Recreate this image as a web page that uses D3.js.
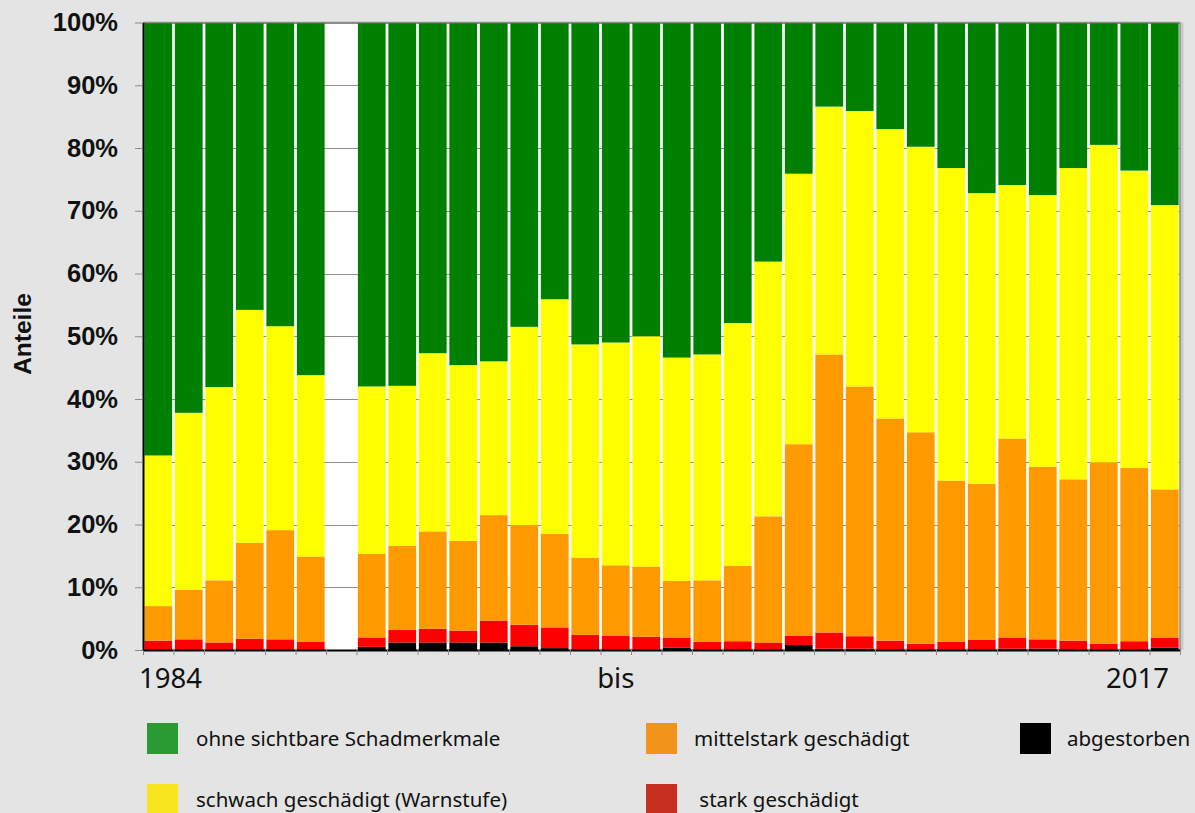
<!DOCTYPE html>
<html><head><meta charset="utf-8">
<script src="https://cdn.jsdelivr.net/npm/d3@7"></script>
<style>
html,body{margin:0;padding:0;background:#e3e4e3;}
svg{display:block;}
</style></head>
<body>
<svg id="chart" width="1195" height="813"></svg>
<script>
// ---- data ----
const years = [1984,1985,1986,1987,1988,1989,1990,1991,1992,1993,1994,1995,1996,1997,1998,1999,2000,2001,2002,2003,2004,2005,2006,2007,2008,2009,2010,2011,2012,2013,2014,2015,2016,2017];
// percentages per damage class (1990: no survey)
const abgestorben = [0,0,0,0,0,0,null,0.5,1.2,1.2,1.2,1.2,0.6,0.3,0.1,0.1,0.1,0.4,0.1,0.1,0.1,0.8,0.2,0.2,0.1,0.1,0.1,0.1,0.2,0.2,0.1,0.1,0.1,0.4];
const stark       = [1.5,1.7,1.2,1.8,1.7,1.3,null,1.5,2.0,2.2,1.9,3.5,3.4,3.3,2.3,2.2,2.0,1.6,1.2,1.3,1.1,1.5,2.6,2.0,1.4,0.9,1.2,1.5,1.8,1.5,1.4,0.9,1.3,1.6];
const mittelstark = [5.5,7.9,9.9,15.3,17.4,13.6,null,13.3,13.4,15.5,14.3,16.8,15.9,14.9,12.3,11.2,11.2,9.0,9.8,12.0,20.1,30.5,44.3,39.8,35.4,33.7,25.7,24.9,31.7,27.5,25.7,28.9,27.6,23.6];
const schwach     = [24.0,28.2,30.8,37.1,32.5,28.9,null,26.7,25.5,28.4,28.0,24.5,31.6,37.4,34.0,35.5,36.7,35.6,36.0,38.7,40.6,43.1,39.5,43.9,46.1,45.5,49.8,46.3,40.4,43.3,49.6,50.6,47.4,45.3];
const ohne        = [69.0,62.2,58.1,45.8,48.4,56.2,null,58.0,57.9,52.7,54.6,54.0,48.5,44.1,51.3,51.0,50.0,53.4,52.9,47.9,38.1,24.1,13.4,14.1,17.0,19.8,23.2,27.2,25.9,27.5,23.2,19.5,23.6,29.1];
const yTicks = [0,10,20,30,40,50,60,70,80,90,100];
const xLabels = ["1984","bis","2017"];
const seriesKeys   = ["abgestorben","stark","mittelstark","schwach","ohne"];
const barColors    = ["#000000","#ff0000","#ff9900","#ffff00","#008000"];
const legendNames  = ["ohne sichtbare Schadmerkmale","mittelstark geschädigt","abgestorben","schwach geschädigt (Warnstufe)"," stark geschädigt"];
const legendKeys   = ["ohne","mittelstark","abgestorben","schwach","stark"];
const legendColors = ["#2a9a33","#f2931b","#000000","#f6e51f","#c53020"];

// ---- layout ----
const svg = d3.select("#chart");
const L = 143, R = 1180, T = 22.5, B = 650;

const table = years.map((yr,i)=>({year:yr, abgestorben:abgestorben[i], stark:stark[i], mittelstark:mittelstark[i], schwach:schwach[i], ohne:ohne[i]}));
const valid = table.filter(d=>d.ohne!==null);

const x = d3.scaleBand().domain(years).range([L,R]).paddingInner(0.09).paddingOuter(0.045);
const xb = d3.scaleLinear().domain([0,years.length]).range([L,R]);
const y = d3.scaleLinear().domain([0,100]).range([B,T]);

// plot background
svg.append("rect").attr("x",L).attr("y",T).attr("width",R-L).attr("height",B-T).attr("fill","#ffffff");
// right shadow
svg.append("rect").attr("x",R+0.5).attr("y",T).attr("width",3).attr("height",B-T).attr("fill","#c9caca");

// gridlines
svg.append("g").selectAll("line").data(yTicks.filter(v=>v>0)).join("line")
  .attr("x1",L).attr("x2",R).attr("y1",d=>Math.round(y(d))+0.5).attr("y2",d=>Math.round(y(d))+0.5)
  .attr("stroke","#8e8e8e").attr("stroke-width",1);

// bars
const stack = d3.stack().keys(seriesKeys);
const stacked = stack(valid);
const color = d3.scaleOrdinal().domain(seriesKeys).range(barColors);
svg.append("g").selectAll("g").data(stacked).join("g").attr("fill",d=>color(d.key))
  .selectAll("rect").data(d=>d).join("rect")
  .attr("x",d=>x(d.data.year)).attr("width",x.bandwidth())
  .attr("y",d=>y(d[1])).attr("height",d=>Math.max(0,y(d[0])-y(d[1])));

// borders
svg.append("line").attr("x1",L).attr("x2",R).attr("y1",T).attr("y2",T).attr("stroke","#8a8a8a").attr("stroke-width",1.5);
svg.append("line").attr("x1",R).attr("x2",R).attr("y1",T).attr("y2",B).attr("stroke","#8a8a8a").attr("stroke-width",1.5);

// x axis (ticks at slot boundaries)
const xAxis = svg.append("g").attr("transform",`translate(0,${B})`)
  .call(d3.axisBottom(xb).tickValues(d3.range(0,years.length+1)).tickFormat("").tickSizeInner(5).tickSizeOuter(0));
xAxis.select(".domain").attr("stroke","#000").attr("stroke-width",2);
xAxis.selectAll(".tick line").attr("stroke","#8a8a8a");

// y axis
const yAxis = svg.append("g").attr("transform",`translate(${L},0)`)
  .call(d3.axisLeft(y).tickValues(yTicks).tickFormat(d=>d+"%").tickSizeInner(8).tickSizeOuter(0).tickPadding(17));
yAxis.select(".domain").attr("stroke","#000").attr("stroke-width",2);
yAxis.selectAll(".tick line").attr("stroke","#8a8a8a");
yAxis.selectAll(".tick text").attr("font-family","'Liberation Sans', Arial, sans-serif").attr("font-weight","bold")
  .attr("font-size",25.5).attr("fill","#111");

// y title
svg.append("text").attr("transform","translate(31,334) rotate(-90)").attr("text-anchor","middle")
  .attr("font-family","'Liberation Sans', Arial, sans-serif").attr("font-weight","bold").attr("font-size",24.5)
  .attr("fill","#111").text("Anteile");

// x labels
const xLabelPos = [
  {x: xb(0)-4, anchor:"start"},
  {x: x(1999)+x.bandwidth()/2, anchor:"middle"},
  {x: xb(years.length)-11, anchor:"end"}
];
svg.append("g").selectAll("text").data(xLabels).join("text")
  .attr("x",(d,i)=>xLabelPos[i].x).attr("y",688).attr("text-anchor",(d,i)=>xLabelPos[i].anchor)
  .attr("font-family","'Noto Sans', sans-serif").attr("font-size",27.5).attr("fill","#111").text(d=>d);

// legend
const legX = [147,646,1020,147,646];
const legY = [723,723,723,784,784];
const legTX = [196,694,1067,196,694];
const leg = svg.append("g").selectAll("g").data(legendNames).join("g");
leg.append("rect").attr("x",(d,i)=>legX[i]).attr("y",(d,i)=>legY[i]).attr("width",31).attr("height",31)
  .attr("fill",(d,i)=>legendColors[i]);
leg.append("text").attr("x",(d,i)=>legTX[i]).attr("y",(d,i)=>legY[i]+22.5).attr("xml:space","preserve")
  .style("white-space","pre")
  .attr("font-family","'Noto Sans', sans-serif").attr("font-size",20.5).attr("fill","#111").text(d=>d);
</script>
</body></html>
